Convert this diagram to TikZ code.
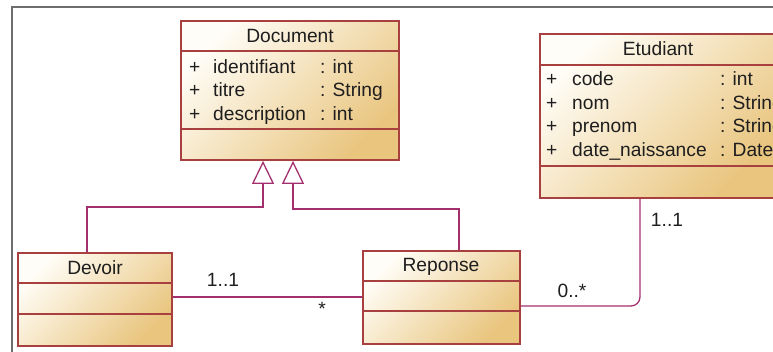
\documentclass[tikz,border=0pt]{standalone}
\usepackage{fontspec}
\setmainfont{Liberation Sans}
\usetikzlibrary{arrows.meta, positioning, calc}
\definecolor{umlborder}{HTML}{A84040}
\definecolor{umlline}{HTML}{A3306E}
\definecolor{umllight}{HTML}{FFFDF7}
\definecolor{umldark}{HTML}{E9C57E}
\definecolor{framegray}{HTML}{6E6E6E}
\definecolor{umltext}{HTML}{1E1E1E}

\tikzset{
  classbox/.style={draw=umlborder, line width=1.8pt, top color=umllight, bottom color=umldark, shading angle=45, inner sep=0pt},
  sepline/.style={draw=umlborder, line width=1.8pt},
  assoc/.style={draw=umlline, line width=1.3pt},
  inherit/.style={assoc, -{Triangle[open, length=23pt, width=22pt]}},
  txt/.style={inner sep=0pt, text height=13pt, text depth=0pt, text=umltext, font=\fontsize{19.2}{23}\selectfont},
}

\begin{document}
\begin{tikzpicture}[x=1pt, y=-1pt]
  \useasboundingbox (0,0) rectangle (773,352);
  \clip (0,0) rectangle (773,352);
  \draw[framegray, line width=1.2pt] (12,352) |- (773,7);

  % classes
  \node[classbox, minimum width=218pt, minimum height=139pt] (doc) at (290,90.5) {};
  \node[classbox, minimum width=236pt, minimum height=164pt] (etu) at (658,116) {};
  \node[classbox, minimum width=154pt, minimum height=93pt] (dev) at (95,299.5) {};
  \node[classbox, minimum width=157pt, minimum height=93pt] (rep) at (441.5,297.5) {};
  \foreach \c/\a/\b in {doc/31/109, etu/32/133, dev/31/62, rep/31/61} {
    \draw[sepline] ($(\c.north west)+(0,\a)$) -- ($(\c.north east)+(0,\a)$);
    \draw[sepline] ($(\c.north west)+(0,\b)$) -- ($(\c.north east)+(0,\b)$);
  }
  \node[txt] (docT) at (290,36) {Document};
  \node[txt] (etuT) at (658,49) {Etudiant};
  \node[txt] (devT) at (95,268) {Devoir};
  \node[txt] (repT) at (441,265) {Reponse};

  % attributs
  \foreach \n/\t [count=\i] in {identifiant/int, titre/String, description/int} {
    \node[txt, anchor=west] (docP\i) at (189,{67+23.5*(\i-1)}) {+};
    \node[txt, anchor=west] (docN\i) at (213,{67+23.5*(\i-1)}) {\n};
    \node[txt, anchor=west] (docY\i) at (320,{67+23.5*(\i-1)}) {: \t};
  }
  \foreach \n/\t [count=\i] in {code/int, nom/String, prenom/String, date\_naissance/Date} {
    \node[txt, anchor=west] (etuP\i) at (546,{79+23.7*(\i-1)}) {+};
    \node[txt, anchor=west] (etuN\i) at (572,{79+23.7*(\i-1)}) {\n};
    \node[txt, anchor=west] (etuY\i) at (720,{79+23.7*(\i-1)}) {: \t};
  }

  % heritage
  \coordinate (devTop) at ($(dev.north)+(-8,0)$);
  \coordinate (repTop) at ($(rep.north)+(17.5,0)$);
  \coordinate (docIn1) at ($(doc.south)+(-27,0)$);
  \coordinate (docIn2) at ($(doc.south)+(3,0)$);
  \draw[inherit] (devTop) -- ++(0,-45) -| (docIn1);
  \draw[inherit] (repTop) -- ++(0,-41) -| (docIn2);

  % associations
  \coordinate (devR) at ($(dev.east)+(0,-2.5)$);
  \coordinate (repR) at ($(rep.east)+(0,8.5)$);
  \coordinate (etuB) at ($(etu.south)+(-18,0)$);
  \draw[assoc] (devR) -- (devR -| rep.west);
  \draw[assoc, rounded corners=9pt] (repR) -| (etuB);
  \node[txt] (m1) at (223,280) {1..1};
  \node[txt] (m2) at (322,309) {*};
  \node[txt] (m3) at (572,291) {0..*};
  \node[txt] (m4) at (667,220) {1..1};
\end{tikzpicture}
\end{document}
